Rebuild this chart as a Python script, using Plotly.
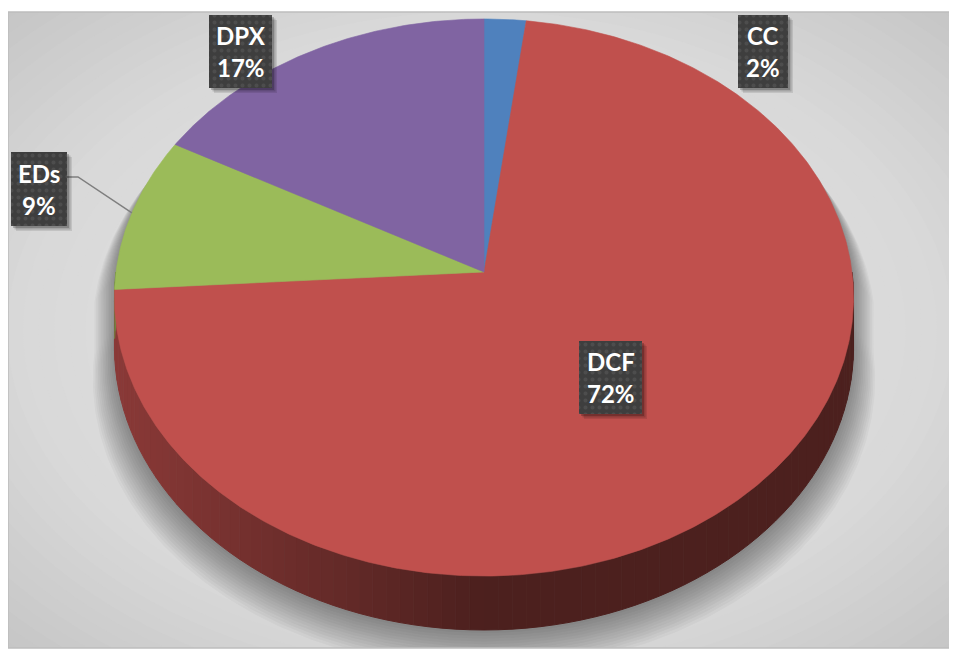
import numpy as np
import plotly.graph_objects as go

# ---------------- data ----------------
labels = ["CC", "DCF", "EDs", "DPX"]
values = [2, 72, 9, 17]
pct_text = ["2%", "72%", "9%", "17%"]
colors = ["#4F81BD", "#C0504D", "#9BBB59", "#8064A2"]

# ---------------- geometry / layout constants ----------------
W, H = 949, 645            # page body has an 8px margin
OFF = 8
FX0, FX1, FY0, FY1 = 8, 951, 12, 648          # chart frame (page pixels)
X0, Y0 = 484, 272                              # pie apex on screen
RX, RY, PERSP, DEPTH = 368, 276.2, 0.0916, 49  # 3-D projection params

# label boxes: (cx, cy, w, h)
label_boxes = {
    "CC": (763, 51.5, 50, 73),
    "DPX": (240.5, 51.5, 63, 73),
    "EDs": (39, 189, 56, 74),
    "DCF": (610.5, 377.5, 63, 73),
}


def rim(theta_deg, drop=0.0):
    t = np.radians(np.asarray(theta_deg, dtype=float))
    u, v = np.sin(t), np.cos(t)
    w = 1 + PERSP * v
    return X0 + RX * u / w, Y0 + (-RY * v + drop) / w


def hex2rgb(h):
    h = h.lstrip("#")
    return tuple(int(h[i:i + 2], 16) for i in (0, 2, 4))


def lerp(c1, c2, f):
    return tuple(int(round(a + (b - a) * f)) for a, b in zip(c1, c2))


def rgb(c):
    return "rgb(%d,%d,%d)" % c


total = float(sum(values))
cum = np.concatenate([[0], np.cumsum(values)]) / total * 360.0

fig = go.Figure()
shapes = []

# ---------------- background radial gradient ----------------
gcx, gcy = 480, 330
rx0, ry0 = (FX1 - FX0) / 2, (FY1 - FY0) / 2
c_center, c_edge, c_corner = (234, 234, 234), (216, 216, 216), (198, 198, 198)
for s in np.linspace(1.5, 0.04, 45):
    if s <= 1:
        col = lerp(c_center, c_edge, s)
    else:
        col = lerp(c_edge, c_corner, min((s - 1) / 0.42, 1))
    shapes.append(dict(type="circle", xref="x", yref="y", layer="below",
                       x0=gcx - s * rx0, x1=gcx + s * rx0,
                       y0=gcy - s * ry0, y1=gcy + s * ry0,
                       fillcolor=rgb(col), line=dict(width=0)))

# ---------------- soft shadow ----------------
th_top = np.linspace(-90, 90, 240)
th_bot = np.linspace(90, 270, 240)
tx, ty = rim(th_top)
bx, by = rim(th_bot, DEPTH)
sil_x = np.concatenate([tx, bx])
sil_y = np.concatenate([ty, by])
scx, scy = 484, 330
for i in range(14):
    kx = 1 + 0.0045 * i
    ky = 1 + 0.002 * i
    fig.add_trace(go.Scatter(
        x=scx + (sil_x - scx) * kx, y=scy + (sil_y - scy) * ky + 3 + 2.2 * i,
        fill="toself", mode="lines", line=dict(width=0),
        fillcolor="rgba(0,0,0,0.03)", hoverinfo="skip", showlegend=False))

# ---------------- side (depth) of pie ----------------
def slice_at(theta):
    for j in range(len(values)):
        if cum[j] <= theta < cum[j + 1]:
            return j
    return len(values) - 1

step = 2.0
edges = np.arange(90, 270 + step, step)
for a, b in zip(edges[:-1], edges[1:]):
    cuts = [a] + [c for c in cum if a < c < b] + [b]
    for p, q in zip(cuts[:-1], cuts[1:]):
        th = np.linspace(p, q, 4)
        x1, y1 = rim(th)
        x2, y2 = rim(th[::-1], DEPTH)
        j = slice_at((p + q) / 2)
        xm, _ = rim((p + q) / 2)
        f = float(np.clip((xm - 116) / (480 - 116), 0, 1))
        base = hex2rgb(colors[j])
        light = tuple(int(c * 0.72) for c in base)
        dark = tuple(int(c * 0.40) for c in base)
        col = rgb(lerp(light, dark, f))
        fig.add_trace(go.Scatter(
            x=np.concatenate([x1, x2]), y=np.concatenate([y1, y2]),
            fill="toself", mode="lines", line=dict(width=1, color=col),
            fillcolor=col, hoverinfo="skip", showlegend=False))

# ---------------- top face slices ----------------
for j in range(len(values)):
    th = np.linspace(cum[j], cum[j + 1], max(int((cum[j + 1] - cum[j]) * 2), 4))
    xs, ys = rim(th)
    fig.add_trace(go.Scatter(
        x=np.concatenate([[X0], xs, [X0]]), y=np.concatenate([[Y0], ys, [Y0]]),
        fill="toself", mode="lines", line=dict(width=0.6, color=colors[j]),
        fillcolor=colors[j], hoverinfo="skip", showlegend=False, name=labels[j]))

# ---------------- leader line for EDs ----------------
j_eds = labels.index("EDs")
mid = (cum[j_eds] + cum[j_eds + 1]) / 2
lx, ly = rim(mid)
bcx, bcy, bw, bh = label_boxes["EDs"]
fig.add_trace(go.Scatter(
    x=[bcx + bw / 2, bcx + bw / 2 + 11, float(lx)],
    y=[bcy - 12, bcy - 12, float(ly)],
    mode="lines", line=dict(color="#7F7F7F", width=1.5),
    hoverinfo="skip", showlegend=False))

# ---------------- label boxes ----------------
annotations = []
font = dict(family="Lato, Open Sans, sans-serif", size=24, color="white")
for j, name in enumerate(labels):
    cx, cy, bw, bh = label_boxes[name]
    for off, a in ((5, 0.10), (3.5, 0.15), (2, 0.2)):
        xs = [cx - bw / 2 + off, cx + bw / 2 + off, cx + bw / 2 + off, cx - bw / 2 + off, cx - bw / 2 + off]
        ys = [cy - bh / 2 + off, cy - bh / 2 + off, cy + bh / 2 + off, cy + bh / 2 + off, cy - bh / 2 + off]
        fig.add_trace(go.Scatter(x=xs, y=ys, fill="toself", mode="lines",
                                 line=dict(width=0), fillcolor="rgba(0,0,0,%.2f)" % a,
                                 hoverinfo="skip", showlegend=False))
    bxs = [cx - bw / 2, cx + bw / 2, cx + bw / 2, cx - bw / 2, cx - bw / 2]
    bys = [cy - bh / 2, cy - bh / 2, cy + bh / 2, cy + bh / 2, cy - bh / 2]
    fig.add_trace(go.Scatter(
        x=bxs, y=bys, fill="toself", mode="lines", line=dict(width=0),
        fillcolor="#3E3E3E",
        fillpattern=dict(shape=".", bgcolor="#3E3E3E", fgcolor="#5C5C5C",
                         size=7, solidity=0.25),
        hoverinfo="skip", showlegend=False))
    annotations.append(dict(x=cx, y=cy - 16, xref="x", yref="y", showarrow=False,
                            text="<b>%s</b>" % name, font=font, yshift=0))
    annotations.append(dict(x=cx, y=cy + 16, xref="x", yref="y", showarrow=False,
                            text="<b>%s</b>" % pct_text[j], font=font, yshift=0))

# frame border
shapes.append(dict(type="rect", xref="paper", yref="paper", x0=0, x1=1, y0=0, y1=1,
                   line=dict(color="#BDBDBD", width=1.5), layer="above"))

fig.update_layout(
    width=W, height=H,
    margin=dict(l=FX0 - OFF, r=W - (FX1 - OFF), t=FY0 - OFF, b=H - (FY1 - OFF), pad=0),
    paper_bgcolor="white", plot_bgcolor="rgb(205,205,205)",
    xaxis=dict(range=[FX0, FX1], visible=False, fixedrange=True),
    yaxis=dict(range=[FY1, FY0], visible=False, fixedrange=True),
    shapes=shapes, annotations=annotations, showlegend=False,
)

fig.write_html("out.html")
